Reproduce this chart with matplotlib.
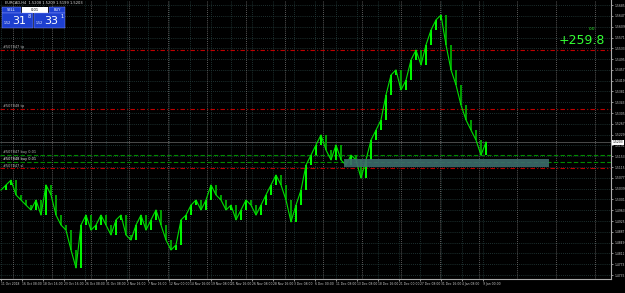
import numpy as np
import matplotlib.pyplot as plt
from matplotlib.patches import Rectangle

# EURCAD H4 closes (one point per ~5 px)
close = [1.5034, 1.5052, 1.5069, 1.5017, 1.4999, 1.4981, 1.4964, 1.4999, 1.4946, 1.5052,
         1.5017, 1.4946, 1.4911, 1.4893, 1.4823, 1.4760, 1.4911, 1.4946, 1.4893, 1.4911,
         1.4946, 1.4911, 1.4876, 1.4929, 1.4946, 1.4876, 1.4858, 1.4911, 1.4946, 1.4893,
         1.4929, 1.4964, 1.4911, 1.4858, 1.4823, 1.4841, 1.4929, 1.4946, 1.4981, 1.4999,
         1.4964, 1.4999, 1.5052, 1.5017, 1.4999, 1.4964, 1.4981, 1.4929, 1.4964, 1.4999,
         1.4981, 1.4946, 1.4981, 1.5017, 1.5052, 1.5087, 1.5052, 1.4999, 1.4922, 1.4981,
         1.5034, 1.5122, 1.5157, 1.5193, 1.5228, 1.5175, 1.5140, 1.5193, 1.5140, 1.5122,
         1.5157, 1.5140, 1.5076, 1.5140, 1.5210, 1.5245, 1.5281, 1.5369, 1.5439, 1.5457,
         1.5386, 1.5421, 1.5492, 1.5527, 1.5474, 1.5545, 1.5597, 1.5633, 1.5650, 1.5545,
         1.5457, 1.5404, 1.5333, 1.5281, 1.5245, 1.5210, 1.5157, 1.5203]

time_labels = ["11 Oct 2018", "16 Oct 08:00", "18 Oct 16:00", "23 Oct 16:00", "26 Oct 08:00",
               "31 Oct 08:00", "2 Nov 16:00", "7 Nov 16:00", "12 Nov 00:00", "14 Nov 16:00",
               "19 Nov 08:00", "21 Nov 16:00", "26 Nov 08:00", "28 Nov 16:00", "3 Dec 08:00",
               "6 Dec 00:00", "11 Dec 08:00", "13 Dec 08:00", "18 Dec 16:00", "21 Dec 00:00",
               "27 Dec 08:00", "31 Dec 16:00", "4 Jan 08:00", "9 Jan 00:00"]

price_ticks = [round(1.4735 + 0.0038 * k, 4) for k in range(26)]

tp_levels = [1.5527, 1.5319]
sl_level = 1.5112
buy_levels = [1.5157, 1.5133]
zone = (1.5115, 1.5143)  # support rectangle, low/high
zone_span = (68.6, 109.6)

BG = "black"
GRID = "#27403f"
fs = 2.2

fig = plt.figure(figsize=(6.25, 2.93), dpi=100, facecolor=BG)
ax = fig.add_axes([0, 14 / 293, 611 / 625, 279 / 293], facecolor=BG)

x = np.arange(len(close))
c = np.array(close)

# grid + weekly separators
for k in range(len(time_labels)):
    ax.axvline(k * 4.19, color=GRID, lw=0.6, ls=(0, (1, 1.5)), zorder=0)
for p in price_ticks:
    ax.axhline(p, color=GRID, lw=0.6, ls=(0, (1, 1.5)), zorder=0)
for w in np.arange(2.4, 120, 7.76):
    ax.axvline(w, color="#7a7a7a", lw=0.6, ls=(0, (1, 1.5)), zorder=0)

# price: bars between consecutive closes + line
prev = np.r_[c[0], c[:-1]]
up = c >= prev
ax.vlines(x[up], prev[up], c[up], color="#00ff00", lw=1.4, zorder=3)
ax.vlines(x[~up], c[~up], prev[~up], color="#00a000", lw=1.4, zorder=3)
ax.plot(x, c, color="#00e000", lw=0.8, zorder=4)

# trade levels
for lv in tp_levels + [sl_level]:
    ax.axhline(lv, color="#c00000", lw=0.8, ls=(0, (4, 2, 1, 2)), zorder=2)
for lv in buy_levels:
    ax.axhline(lv, color="#008a00", lw=0.8, ls=(0, (4, 2)), zorder=2)
ax.add_patch(Rectangle((zone_span[0], zone[0]), zone_span[1] - zone_span[0], zone[1] - zone[0],
                       facecolor="#3d6b6b", edgecolor="none", alpha=0.9, zorder=5))

# level labels on the left
lab_kw = dict(fontsize=2.5, color="#bbbbbb", va="bottom", ha="left", zorder=6)
ax.text(0.4, tp_levels[0] + 0.0003, "#507847 tp", **lab_kw)
ax.text(0.4, tp_levels[1] + 0.0003, "#507848 tp", **lab_kw)
ax.text(0.4, buy_levels[0] + 0.0003, "#507847 buy 0.01", **lab_kw)
ax.text(0.4, buy_levels[1] + 0.0002, "#507848 buy 0.01", fontsize=2.5, color="white",
        va="bottom", ha="left", zorder=6)
ax.text(0.4, sl_level + 0.0001, "#507847 sl", **lab_kw)

ax.set_xlim(-0.2, 122.0)
ax.set_ylim(1.4721, 1.5703)

ax.yaxis.tick_right()
ax.set_yticks(price_ticks)
ax.set_yticklabels([f"{p:.4f}" for p in price_ticks])
ax.set_xticks([k * 4.19 for k in range(len(time_labels))])
ax.set_xticklabels(time_labels, ha="left")
ax.tick_params(colors="#cccccc", labelsize=fs, length=1.5, width=0.5, pad=0.8)
for s in ["top", "left"]:
    ax.spines[s].set_visible(False)
for s in ["right", "bottom"]:
    ax.spines[s].set_color("#aaaaaa")
    ax.spines[s].set_linewidth(0.8)

# current price marker
ax.axhline(close[-1], color="#666666", lw=0.5, zorder=1)
ax.text(1.003, close[-1], f"{close[-1]:.4f}", transform=ax.get_yaxis_transform(),
        fontsize=fs, color="black", va="center", ha="left",
        bbox=dict(boxstyle="square,pad=0.15", fc="white", ec="none"), zorder=7)

# profit readout
ax.text(0.99, 0.855, "+259.8", transform=ax.transAxes, fontsize=9, color="#33ff33",
        ha="right", va="center")
ax.text(0.975, 0.895, "0.0", transform=ax.transAxes, fontsize=3, color="#33ff33",
        ha="right", va="center")

# header + one-click trading panel (pixel coords)
ov = fig.add_axes([0, 0, 1, 1], facecolor="none")
ov.set_xlim(0, 625)
ov.set_ylim(293, 0)
ov.axis("off")
ov.text(5, 3.5, "EURCAD,H4  1.5208 1.5209 1.5199 1.5203", fontsize=2.6, color="#dddddd",
        va="center", ha="left")
blue = "#1d3fcf"
ov.add_patch(Rectangle((2, 7), 19, 6, fc=blue, ec="#8899ff", lw=0.3))
ov.add_patch(Rectangle((22, 7), 26, 6, fc="white", ec="none"))
ov.add_patch(Rectangle((49, 7), 16, 6, fc=blue, ec="#8899ff", lw=0.3))
ov.add_patch(Rectangle((2, 13), 31, 15, fc=blue, ec="#8899ff", lw=0.3))
ov.add_patch(Rectangle((34, 13), 31, 15, fc=blue, ec="#8899ff", lw=0.3))
ov.text(11.5, 10, "SELL", fontsize=2.6, color="white", ha="center", va="center")
ov.text(35, 10, "0.01", fontsize=2.6, color="black", ha="center", va="center")
ov.text(57, 10, "BUY", fontsize=2.6, color="white", ha="center", va="center")
ov.text(4, 22.5, "1.52", fontsize=2.3, color="white", ha="left", va="center")
ov.text(12, 21, "31", fontsize=8, color="white", ha="left", va="center")
ov.text(28, 17, "8", fontsize=3.5, color="white", ha="left", va="center")
ov.text(36, 22.5, "1.52", fontsize=2.3, color="white", ha="left", va="center")
ov.text(44, 21, "33", fontsize=8, color="white", ha="left", va="center")
ov.text(60, 17, "1", fontsize=3.5, color="white", ha="left", va="center")

fig.savefig("out.png", dpi=100, facecolor=BG)
